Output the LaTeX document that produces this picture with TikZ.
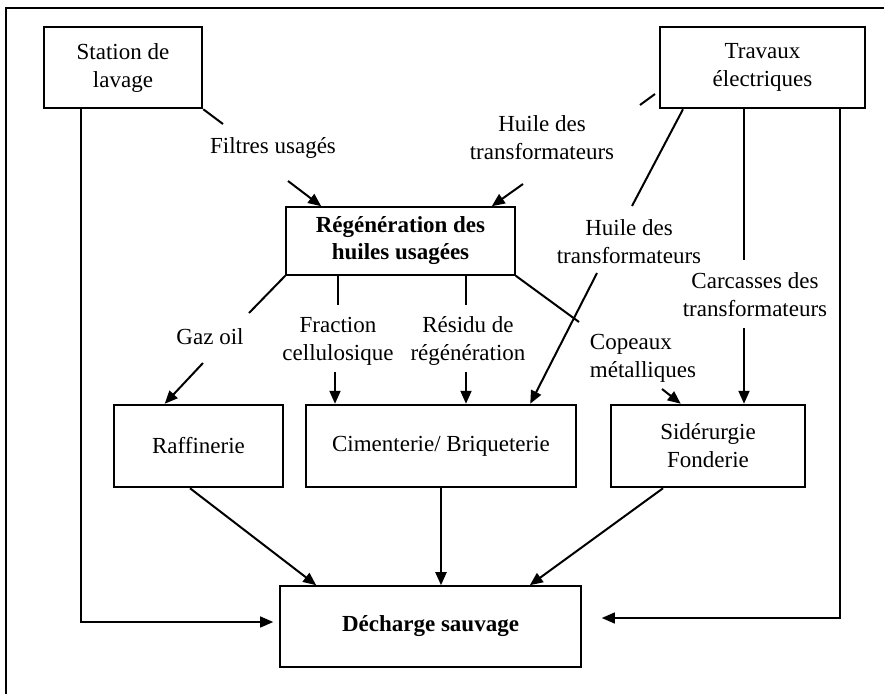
\documentclass[tikz,border=0pt]{standalone}
\usepackage{fontspec}
\setmainfont{Liberation Serif}
\usetikzlibrary{arrows.meta}

\tikzset{
  boite/.style={draw, line width=2.5pt, align=center, inner sep=0pt},
  fine/.style={line width=1.6pt},
  etiq/.style={align=center, inner sep=0pt},
  trait/.style={line width=2pt},
  fleche/.style={trait, -{Triangle[length=13pt,width=11pt]}},
}

\begin{document}
\begin{tikzpicture}[x=1pt, y=-1pt, font=\fontsize{23}{28}\selectfont]
\useasboundingbox (0,0) rectangle (884,694);
% cadre
\draw[line width=1.6pt] (884,8) -- (6,8) -- (6,694);

% boites
\node[boite, minimum width=158pt, minimum height=81pt] (station) at (123,67.5) {Station de\\lavage};
\node[boite, minimum width=205pt, minimum height=81pt] (trav) at (762.5,67.5) {Travaux\\électriques};
\node[boite, fine, minimum width=229pt, minimum height=68pt, font=\fontsize{23}{27}\selectfont\bfseries] (regen) at (400.5,241) {Régénération des\\huiles usagées};
\node[boite, minimum width=169pt, minimum height=82pt] (raff) at (198.5,446) {Raffinerie};
\node[boite, minimum width=270pt, minimum height=82pt] (cim) at (441,446) {Cimenterie/ Briqueterie};
\node[boite, minimum width=194pt, minimum height=82pt] (sid) at (708,446) {Sidérurgie\\Fonderie};
\node[boite, fine, minimum width=301pt, minimum height=81pt, font=\fontsize{23}{28}\selectfont\bfseries] (dech) at (430.5,626.5) {Décharge sauvage};

% etiquettes
\node[etiq] (filtre) at (273,148) {Filtres usagés};
\node[etiq] (huileA) at (542,138) {Huile des\\transformateurs};
\node[etiq] (huileB) at (629,242) {Huile des\\transformateurs};
\node[etiq] (carc) at (755,295) {Carcasses des\\transformateurs};
\node[etiq] (gaz) at (210,337) {Gaz oil};
\node[etiq] (frac) at (338,341) {Fraction\\cellulosique};
\node[etiq] (resid) at (468,341) {Résidu de\\régénération};
\node[etiq, align=left] (cop) at (643,358) {Copeaux\\métalliques};

% points de coupure
\coordinate (f1) at (223,124);
\coordinate (f2) at (288,181);
\coordinate (ha0) at (655,94);
\coordinate (ha1) at (640,105);
\coordinate (ha2) at (523,184);
\coordinate (hb1) at (632,206);
\coordinate (hb2) at (597,273);
\coordinate (c3) at (744,260);
\coordinate (c4) at (744,328);
\coordinate (d1) at (840,618);
\coordinate (g1) at (81,622);
\coordinate (g2) at (249,313);
\coordinate (g3) at (203,363);
\coordinate (fr1) at (338,305);
\coordinate (fr2) at (335,372);
\coordinate (r1) at (466,305);
\coordinate (r2) at (466,372);
\coordinate (k1) at (579,322);
\coordinate (k2) at (662,389);

% station de lavage
\draw[trait] (station.south east) -- (f1);
\draw[fleche] (f2) -- ([xshift=36pt]regen.north west);
\draw[fleche, line width=1.4pt, shorten >=6pt] (g1 |- station.south) -- (g1) -- (g1 -| dech.west);

% travaux electriques
\draw[trait] (ha0) -- (ha1);
\draw[fleche] (ha2) -- ([xshift=-24pt]regen.north east);
\draw[trait] ([xshift=-79.5pt]trav.south) -- (hb1);
\draw[fleche] (hb2) -- ([xshift=-47pt]cim.north east);
\draw[trait] (c3 |- trav.south) -- (c3);
\draw[fleche] (c4) -- (c4 |- sid.north);
\draw[fleche, line width=1.4pt, shorten >=20pt] (d1 |- trav.south) -- (d1) -- (d1 -| dech.east);

% regeneration
\draw[trait] (regen.south west) -- (g2);
\draw[fleche] (g3) -- ([xshift=52pt]raff.north west);
\draw[trait] (fr1 |- regen.south) -- (fr1);
\draw[fleche] (fr2) -- (fr2 |- cim.north);
\draw[trait] (r1 |- regen.south) -- (r1);
\draw[fleche] (r2) -- (r2 |- cim.north);
\draw[trait] (regen.south east) -- (k1);
\draw[fleche] (k2) -- ([xshift=71pt]sid.north west);

% vers la decharge
\draw[fleche] ([xshift=-8.5pt]raff.south) -- ([xshift=37pt]dech.north west);
\draw[fleche] (cim.south) -- (cim.south |- dech.north);
\draw[fleche] ([xshift=-45pt]sid.south) -- ([xshift=-52pt]dech.north east);
\end{tikzpicture}
\end{document}
